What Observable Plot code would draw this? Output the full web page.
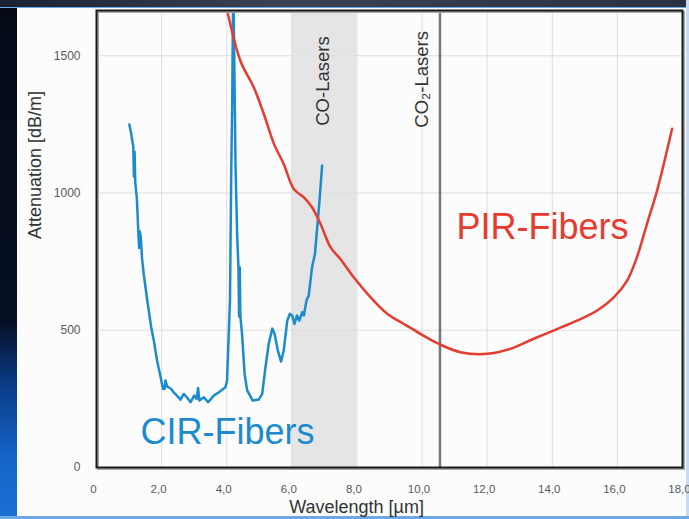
<!DOCTYPE html>
<html><head><meta charset="utf-8">
<script src="https://cdn.jsdelivr.net/npm/d3@7"></script>
<script src="https://cdn.jsdelivr.net/npm/@observablehq/plot@0.6"></script>
<style>
html,body{margin:0;padding:0;width:689px;height:519px;overflow:hidden;background:#fcfcfc;}
#page{position:relative;width:689px;height:519px;background:#fcfcfc;}
.left{position:absolute;left:0;top:0;width:17px;height:519px;background:linear-gradient(#050a16 0%, #061024 62%, #0a3b86 74%, #1565c8 88%, #1a70d2 100%);}
.top{position:absolute;left:0;top:0;width:689px;height:7px;background:linear-gradient(90deg,#1a2231,#3b4352 40%,#2a3142);border-bottom:1px solid #6aa8e8;}
.right{position:absolute;right:0;top:0;width:3px;height:519px;background:#c9dbf0;}
.bottom{position:absolute;left:0;bottom:0;width:689px;height:3px;background:#6fa6e6;}
#chart{position:absolute;left:0;top:0;}
</style>
</head><body>
<div id="page">
  <div class="left"></div><div class="top"></div><div class="right"></div><div class="bottom"></div>
  <div id="chart"></div>
</div>
<script>
// CIR-Fibers (blue) wavelength [µm] and attenuation [dB/m]
const cirX = [1.01,1.06,1.10,1.13,1.15,1.17,1.19,1.24,1.28,1.31,1.33,1.36,1.40,1.45,1.56,1.68,1.76,1.86,1.97,2.04,2.09,2.12,2.17,2.22,2.30,2.37,2.47,2.58,2.68,2.78,2.89,3.00,3.08,3.12,3.16,3.30,3.43,3.52,3.60,3.76,3.96,4.01,4.10,4.14,4.17,4.20,4.23,4.27,4.32,4.36,4.38,4.40,4.42,4.47,4.55,4.63,4.80,4.99,5.09,5.19,5.29,5.40,5.47,5.57,5.67,5.75,5.86,5.94,6.01,6.08,6.16,6.23,6.32,6.37,6.45,6.52,6.62,6.71,6.78,6.85,6.93];
const cirY = [1250,1220,1190,1170,1060,1150,1040,980,870,800,860,840,760,705,608,511,463,390,329,287,286,317,295,292,285,274,262,247,268,255,238,262,250,290,244,256,238,250,262,274,292,317,608,1094,1337,1800,1500,1100,850,730,550,730,550,487,340,280,244,248,268,365,450,506,487,426,386,426,535,560,554,523,554,535,566,554,608,627,729,778,875,972,1100];
// PIR-Fibers (red)
const pirX = [3.95,4.42,4.83,5.14,5.45,5.75,6.06,6.37,6.62,6.88,7.19,7.49,7.90,8.42,8.93,9.44,9.95,10.52,11.18,12.00,12.71,13.43,14.04,14.76,15.38,15.89,16.30,16.60,16.91,17.22,17.68];
const pirY = [1700,1482,1385,1288,1179,1106,1015,984,948,888,802,760,693,620,560,523,487,450,420,414,432,469,499,535,572,620,681,766,888,1009,1234];
// annotations
const coBand = [{x1: 6.0, x2: 8.0}];
const co2Wavelength = 10.55;
const laserLabels = [{x: 6.97, y: 1245, text: "CO-Lasers"}, {x: 10.0, y: 1238, text: "CO₂-Lasers"}];
const seriesLabels = [{x: 1.35, y: 87, text: "CIR-Fibers", s: "cir"}, {x: 11.06, y: 834, text: "PIR-Fibers", s: "pir"}];
const xTicks = [0,2,4,6,8,10,12,14,16,18];
const yTicks = [0,500,1000,1500];
const xDomain = [0,18];
const yDomain = [0,1665];

const blue = "#1b8bcd", red = "#e63b2f";
const cir = cirX.map((x,i)=>({x, y: cirY[i]}));
const pir = pirX.map((x,i)=>({x, y: pirY[i]}));
const fmtX = d => d === 0 ? "0" : d.toFixed(1).replace(".", ",");
const fmtY = d => String(d);

const chart = Plot.plot({
  width: 689, height: 519,
  marginLeft: 96, marginRight: 7, marginTop: 10, marginBottom: 52,
  style: {fontFamily: "'Liberation Sans', Arial, sans-serif", background: "transparent", color: "#5a5a5a"},
  x: {domain: xDomain},
  y: {domain: yDomain},
  marks: [
    Plot.rect(coBand, {x1: "x1", x2: "x2", y1: yDomain[0], y2: yDomain[1], fill: "#e5e5e5"}),
    Plot.gridX(xTicks.slice(1, -1), {stroke: "#dedede", strokeOpacity: 1}),
    Plot.gridY(yTicks.slice(1), {stroke: "#dedede", strokeOpacity: 1}),
    Plot.ruleX([co2Wavelength], {stroke: "#777", strokeWidth: 2.5}),
    Plot.line(cir, {x: "x", y: "y", stroke: blue, strokeWidth: 2.5, clip: true, strokeLinejoin: "round"}),
    Plot.line(pir, {x: "x", y: "y", stroke: red, strokeWidth: 2.5, curve: "catmull-rom", clip: true}),
    Plot.frame({stroke: "#aaa", strokeWidth: 2, dx: 1.5, dy: 1.5}),
    Plot.frame({stroke: "#1a1a1a", strokeWidth: 2}),
    Plot.axisY(yTicks, {tickSize: 0, tickPadding: 16, fontSize: 12, tickFormat: fmtY, label: null}),
    Plot.axisX(xTicks, {tickSize: 0, tickPadding: 17, fontSize: 11.5, tickFormat: fmtX, label: null, dx: -3}),
    Plot.text(laserLabels, {x: "x", y: "y", text: "text", rotate: -90, textAnchor: "start", lineAnchor: "middle", fontSize: 18.5, fill: "#333"}),
    Plot.text(seriesLabels, {x: "x", y: "y", text: "text", textAnchor: "start", lineAnchor: "bottom", fontSize: 36, fill: d => d.s === "cir" ? blue : red}),
    Plot.text(["Attenuation [dB/m]"], {frameAnchor: "left", dx: -61, rotate: -90, fontSize: 18, fill: "#333"}),
    Plot.text(["Wavelength [µm]"], {frameAnchor: "bottom", dx: -33, dy: 40, lineAnchor: "middle", fontSize: 18, fill: "#333"})
  ]
});
document.getElementById("chart").appendChild(chart);
</script>
</body></html>
